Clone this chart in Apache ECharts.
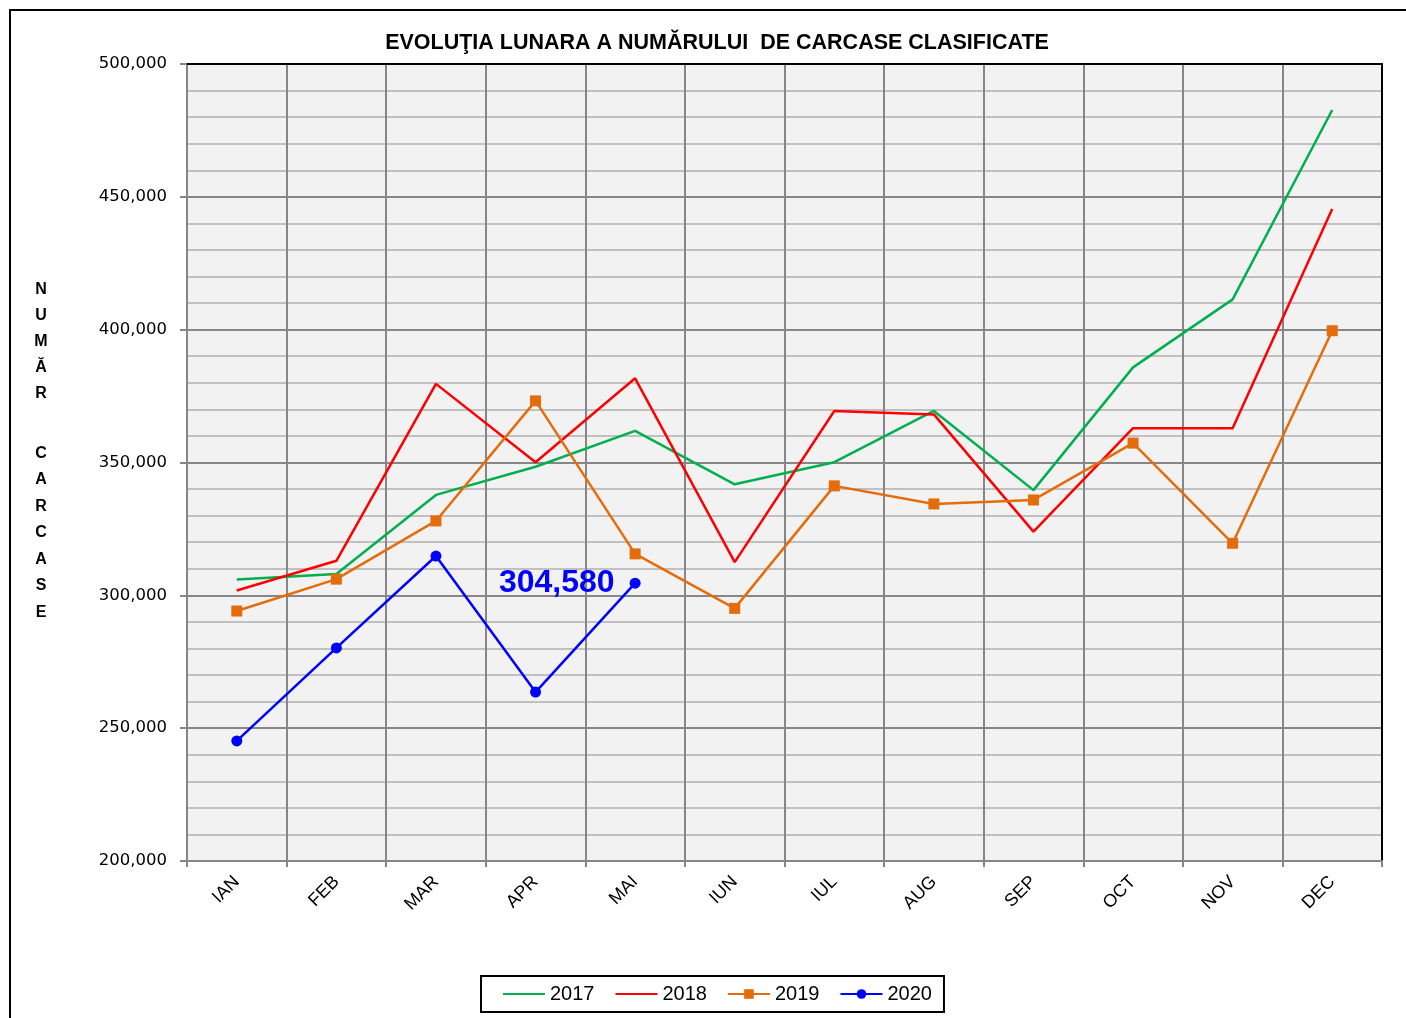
<!DOCTYPE html>
<html>
<head>
<meta charset="utf-8">
<script src="https://cdn.jsdelivr.net/npm/echarts@6/dist/echarts.min.js"></script>
<style>
html,body{margin:0;padding:0;background:#fff;}
#c{width:1406px;height:1018px;}
</style>
</head>
<body>
<div id="c"></div>
<script>
const titleText = 'EVOLUŢIA LUNARA A NUMĂRULUI  DE CARCASE CLASIFICATE';
const yNameTop = 'N\nU\nM\nĂ\nR';
const yNameBottom = 'C\nA\nR\nC\nA\nS\nE';
const months = ['IAN','FEB','MAR','APR','MAI','IUN','IUL','AUG','SEP','OCT','NOV','DEC'];
const seriesNames = ['2017','2018','2019','2020'];
const v2017 = [306000, 308000, 337800, 348400, 361900, 341800, 350100, 369400, 339600, 385800, 411400, 482700];
const v2018 = [301800, 313000, 379600, 350100, 381700, 312500, 369400, 368100, 324000, 362900, 362900, 445400];
const v2019 = [294100, 306100, 328000, 373200, 315600, 295100, 341200, 334400, 335900, 357300, 319600, 399600];
const v2020 = [245200, 280200, 314800, 263600, 304580];
const labelledIndex2020 = 4;
const yMin = 200000, yMax = 500000, yStep = 50000;

const fmt = v => String(Math.round(v)).replace(/\B(?=(\d{3})+(?!\d))/g, ',');
const FONT = '"Liberation Sans", Arial, sans-serif';
const GRAY = '#868686';
const noMarker = ['2017', '2018'];

const chart = echarts.init(document.getElementById('c'), null, {renderer:'canvas'});
chart.setOption({
  animation: false,
  backgroundColor: '#ffffff',
  title: {
    text: titleText,
    left: 712, textAlign: 'center',
    top: 27,
    textStyle: {fontFamily: FONT, fontWeight: 'bold', fontSize: 21.5, color: '#000'}
  },
  graphic: [
    {type:'rect', silent:true, shape:{x:10, y:10, width:1500, height:1200},
     style:{fill:'none', stroke:'#000', lineWidth:2}, z: -1},
    {type:'text', silent:true, x:41, y:277,
     style:{text:yNameTop, fontFamily:FONT, fontWeight:'bold', fontSize:16, lineHeight:26,
            align:'center', verticalAlign:'top', fill:'#000'}},
    {type:'text', silent:true, x:41, y:440,
     style:{text:yNameBottom, fontFamily:FONT, fontWeight:'bold', fontSize:16, lineHeight:26.5,
            align:'center', verticalAlign:'top', fill:'#000'}}
  ],
  legend: {
    data: seriesNames.map(n => noMarker.includes(n) ? {name: n, itemStyle: {opacity: 0}} : n),
    left: 481, top: 976,
    orient: 'horizontal',
    itemWidth: 42, itemHeight: 12, itemGap: 20,
    padding: [8, 12, 8, 21],
    borderColor: '#000', borderWidth: 2,
    backgroundColor: '#fff',
    textStyle: {fontFamily: FONT, fontSize: 20, color: '#000'}
  },
  grid: {
    left: 187, right: 24, top: 64, bottom: 157,
    show: true, backgroundColor: '#f2f2f2', borderWidth: 0
  },
  xAxis: [{
    type: 'category', data: months, boundaryGap: true,
    axisLine: {show: true, onZero: false, lineStyle: {color: GRAY, width: 2}},
    axisTick: {show: true, length: 6, interval: 0, lineStyle: {color: GRAY, width: 2}},
    axisLabel: {interval: 0, rotate: 45, margin: 18, fontFamily: FONT, fontSize: 18, color: '#000'},
    splitLine: {show: true, interval: 0, lineStyle: {color: GRAY, width: 2}}
  }, {
    type: 'category', data: months, position: 'top', boundaryGap: true,
    axisLine: {show: true, onZero: false, lineStyle: {color: '#000', width: 2}},
    axisTick: {show: false}, axisLabel: {show: false}, splitLine: {show: false}
  }],
  yAxis: [{
    type: 'value', min: yMin, max: yMax, interval: yStep,
    axisLine: {show: true, onZero: false, lineStyle: {color: GRAY, width: 2}},
    axisTick: {show: true, length: 7, inside: false, lineStyle: {color: GRAY, width: 2}},
    axisLabel: {margin: 20, formatter: fmt, fontFamily: '"DejaVu Sans", sans-serif', fontSize: 16.5, color: '#000',
                padding: [3, 0, 0, 0]},
    splitLine: {show: true, lineStyle: {color: GRAY, width: 2}},
    minorTick: {show: false, splitNumber: 5},
    minorSplitLine: {show: true, lineStyle: {color: '#b0b0b0', width: 1.5}}
  }, {
    type: 'value', min: yMin, max: yMax, interval: yStep, position: 'right',
    axisLine: {show: true, onZero: false, lineStyle: {color: '#000', width: 2}},
    axisTick: {show: false}, axisLabel: {show: false}, splitLine: {show: false}
  }],
  series: [
    {name: '2017', type: 'line', data: v2017, symbol: 'none',
     lineStyle: {color: '#00b050', width: 2.5}, itemStyle: {color: '#00b050'}},
    {name: '2018', type: 'line', data: v2018, symbol: 'none',
     lineStyle: {color: '#ff0000', width: 2.5}, itemStyle: {color: '#ff0000'}},
    {name: '2019', type: 'line', data: v2019, symbol: 'rect', symbolSize: 11,
     lineStyle: {color: '#e46c0a', width: 2.5}, itemStyle: {color: '#e46c0a'}},
    {name: '2020', type: 'line', symbol: 'circle', symbolSize: 11,
     data: v2020.map((v, i) => i === labelledIndex2020 ? {value: v, label: {show: true}} : v),
     label: {show: false, position: 'left', distance: 15, formatter: p => fmt(p.value),
             fontFamily: FONT, fontWeight: 'bold', fontSize: 32, color: '#0000ff', padding: [3, 0, 0, 0]},
     lineStyle: {color: '#0000ff', width: 2.5}, itemStyle: {color: '#0000ff'}}
  ]
});
</script>
</body>
</html>
